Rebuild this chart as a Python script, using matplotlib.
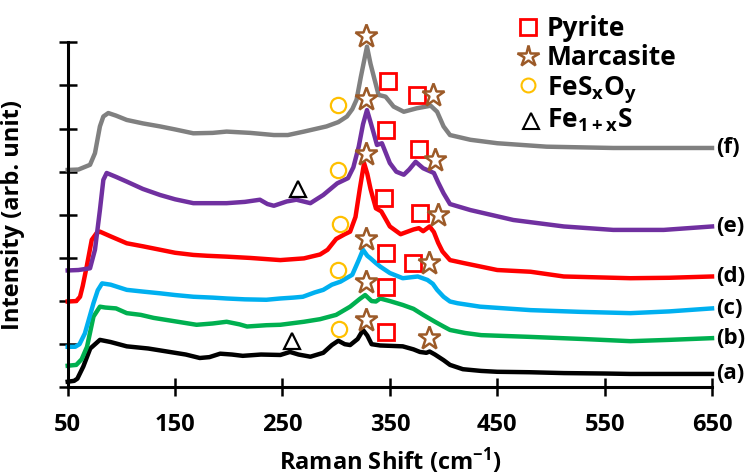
import numpy as np
import matplotlib
matplotlib.use("Agg")
import matplotlib.pyplot as plt

plt.rcParams["font.family"] = ["Open Sans", "DejaVu Sans"]
plt.rcParams["font.weight"] = "bold"
plt.rcParams["mathtext.fontset"] = "custom"
plt.rcParams["mathtext.rm"] = "Open Sans:bold"
plt.rcParams["mathtext.it"] = "Open Sans:bold"
plt.rcParams["mathtext.bf"] = "Open Sans:bold"

# Raman spectra, stacked with an offset (a) bottom ... (f) top
a_x = [50, 56, 59, 64.5, 71, 80, 90, 105, 125, 145, 160, 173, 182, 192, 203, 213, 230, 248,
       257, 265, 276, 288, 296, 302, 308, 313, 320, 325, 329, 333, 341, 352, 362, 372, 378,
       384, 387, 392, 400, 406, 418, 435, 450, 480, 512, 550, 574, 610, 650]
a_y = [0.13, 0.15, 0.2, 0.48, 0.9, 1.1, 1.05, 0.95, 0.9, 0.82, 0.76, 0.68, 0.7, 0.78, 0.76,
       0.73, 0.76, 0.75, 0.82, 0.76, 0.71, 0.8, 0.98, 1.08, 1.0, 0.98, 1.12, 1.33, 1.2, 1.0,
       0.97, 0.96, 0.95, 0.88, 0.82, 0.8, 0.83, 0.76, 0.63, 0.52, 0.42, 0.38, 0.36, 0.35,
       0.33, 0.32, 0.31, 0.31, 0.31]

b_x = [50, 58, 63, 68, 74, 80, 85, 95, 105, 118, 130, 150, 170, 185, 198, 210, 217, 235,
       248, 270, 285, 300, 313, 322, 327, 333, 337, 341, 350, 362, 372, 381, 392, 400, 406,
       420, 435, 480, 530, 574, 610, 650]
b_y = [0.5, 0.52, 0.65, 0.94, 1.64, 1.87, 1.85, 1.83, 1.72, 1.68, 1.61, 1.53, 1.45, 1.48,
       1.52, 1.46, 1.41, 1.44, 1.45, 1.52, 1.58, 1.68, 1.87, 2.05, 2.14, 2.0, 1.99, 2.06,
       2.0, 1.91, 1.82, 1.68, 1.52, 1.41, 1.33, 1.26, 1.21, 1.17, 1.12, 1.07, 1.1, 1.14]

c_x = [50, 57, 61, 66, 70, 74, 78, 82, 90, 105, 120, 136, 150, 167, 185, 198, 215, 235,
       248, 260, 269, 280, 288, 296, 304, 315, 321, 325, 329, 332, 337, 341, 350, 362, 376,
       385, 390, 394, 400, 406, 413, 434, 481, 527, 574, 610, 650]
c_y = [0.94, 0.94, 1.0, 1.25, 1.6, 1.95, 2.25, 2.41, 2.38, 2.26, 2.22, 2.18, 2.14, 2.1,
       2.08, 2.06, 2.04, 2.03, 2.06, 2.08, 2.1, 2.2, 2.26, 2.38, 2.45, 2.61, 2.95, 3.19,
       3.05, 2.99, 2.88, 2.8, 2.65, 2.53, 2.57, 2.49, 2.4, 2.26, 2.1, 1.99, 1.95, 1.87,
       1.79, 1.75, 1.72, 1.76, 1.83]

d_x = [50, 58, 61.5, 64, 67.7, 72.4, 77, 80, 90, 105, 120, 136, 150, 167, 180, 198, 220,
       248, 270, 285, 292, 300, 308, 313, 318, 322, 326, 329, 332, 337, 342, 345, 350, 360,
       372, 377, 381, 387, 391, 395, 399, 406, 419, 450, 481, 512, 574, 610, 650]
d_y = [1.99, 2.0, 2.1, 2.35, 2.8, 3.42, 3.58, 3.61, 3.5, 3.34, 3.27, 3.19, 3.12, 3.07,
       3.05, 3.03, 3.0, 2.95, 2.99, 3.08, 3.19, 3.44, 3.55, 3.61, 3.95, 4.6, 5.2, 4.95, 4.6,
       4.15, 4.08, 3.95, 3.73, 3.55, 3.66, 3.69, 3.62, 3.73, 3.6, 3.35, 3.15, 2.95, 2.88,
       2.72, 2.68, 2.57, 2.53, 2.54, 2.57]

e_x = [50, 60, 70.8, 75.4, 80, 83.2, 86.3, 95, 105, 120, 136, 150, 167, 198, 215, 229,
       236, 242, 254, 263, 276, 288, 301, 311, 316, 321, 325, 328.7, 332, 335, 338, 342.6,
       350, 356, 363, 368, 374, 381, 391, 395, 400, 406, 425, 465, 512, 558, 605, 650]
e_y = [2.71, 2.72, 2.76, 3.19, 4.11, 4.81, 4.97, 4.88, 4.77, 4.6, 4.46, 4.36, 4.27, 4.27,
       4.3, 4.35, 4.25, 4.21, 4.31, 4.35, 4.27, 4.46, 4.73, 4.85, 5.1, 5.58, 6.1, 6.43,
       6.15, 5.89, 5.62, 5.66, 5.2, 5.0, 4.93, 5.05, 5.23, 5.08, 4.97, 4.75, 4.5, 4.25,
       4.11, 3.88, 3.73, 3.65, 3.65, 3.73]

f_x = [50, 60, 70.8, 75.4, 80, 83.2, 87.8, 95, 105, 120, 136, 150, 167, 185, 198, 220,
       242, 255, 270, 291, 302, 310, 315, 319, 323, 328.7, 332, 335, 339.5, 346, 353.5, 363,
       375, 388, 394, 400, 406, 425, 450, 496, 558, 650]
f_y = [5.04, 5.05, 5.16, 5.43, 6.05, 6.28, 6.36, 6.3, 6.2, 6.12, 6.05, 5.98, 5.89, 5.9,
       5.93, 5.9, 5.85, 5.85, 5.93, 6.05, 6.15, 6.28, 6.45, 6.67, 7.2, 7.9, 7.5, 7.21,
       6.78, 6.74, 6.51, 6.39, 6.47, 6.53, 6.39, 6.05, 5.85, 5.74, 5.66, 5.58, 5.55, 5.55]

series = [(a_x, a_y, "black", "(a)"), (b_x, b_y, "#00B050", "(b)"),
          (c_x, c_y, "#00B0F0", "(c)"), (d_x, d_y, "#FF0000", "(d)"),
          (e_x, e_y, "#7030A0", "(e)"), (f_x, f_y, "#808080", "(f)")]

# phase assignments (Raman shift, stacked intensity)
pyrite_x = [348, 375, 346, 377, 345, 378, 346, 372, 346, 346]
pyrite_y = [7.11, 6.78, 5.97, 5.52, 4.39, 4.04, 3.12, 2.88, 2.33, 1.28]
marc_x = [328, 390, 328, 392, 328, 395, 328, 386, 328, 328, 386]
marc_y = [8.15, 6.78, 6.68, 5.27, 5.41, 4.0, 3.44, 2.88, 2.44, 1.56, 1.14]
fesxoy_x = [302, 302, 304, 302, 303]
fesxoy_y = [6.55, 5.04, 3.78, 2.72, 1.35]
fe1xs_x = [264, 259]
fe1xs_y = [4.59, 1.07]

BROWN = "#9C5A28"
ORANGE = "#FFC000"

fig = plt.figure(figsize=(7.48, 4.75), dpi=100)
ax = fig.add_axes([0.0905, 0.1846, 0.8614, 0.7263])

for xs, ys, col, lab in series:
    ax.plot(xs, ys, color=col, lw=3.2, solid_joinstyle="round", clip_on=False)
    ax.text(654, ys[-1], lab, fontsize=16, fontweight="bold", va="center", ha="left")

mk = dict(ls="none", mfc="white", clip_on=False, zorder=5)
ax.plot(pyrite_x, pyrite_y, marker="s", ms=11.5, mec="#FF0000", mew=2.0, **mk)
ax.plot(marc_x, marc_y, marker="*", ms=17, mec=BROWN, mew=1.8, **mk)
ax.plot(fesxoy_x, fesxoy_y, marker="o", ms=11, mec=ORANGE, mew=1.6, **mk)
ax.plot(fe1xs_x, fe1xs_y, marker="^", ms=11, mec="black", mew=1.6, **mk)

ax.set_xlim(50, 650)
ax.set_ylim(0, 8)
ax.set_xticks(np.arange(50, 651, 100))
ax.set_yticks(np.arange(0, 9, 1))
ax.set_yticklabels([])
for s in ["top", "right"]:
    ax.spines[s].set_visible(False)
for s in ["left", "bottom"]:
    ax.spines[s].set_linewidth(2.2)
ax.tick_params(direction="inout", length=13, width=1.8, labelsize=17, pad=12)
ax.set_xlabel("Raman Shift (cm$^{-1}$)", fontsize=17, fontweight="bold", labelpad=6)
ax.set_ylabel("Intensity (arb. unit)", fontsize=17, fontweight="bold", labelpad=12)

# legend drawn by hand at the top right
W, H = 748, 475
leg = [("s", 11.5, "#FF0000", 2.0, 528, 27, "Pyrite", 36),
       ("*", 16, BROWN, 1.8, 528, 56, "Marcasite", 65),
       ("o", 10, ORANGE, 1.5, 528, 85, "FeS$_x$O$_y$", 95),
       ("^", 11, "black", 1.5, 531, 121, "Fe$_{1+x}$S", 128)]
for m, ms, ec, ew, px, py, txt, base in leg:
    fig.add_artist(plt.Line2D([px / W], [1 - py / H], transform=fig.transFigure,
                              marker=m, ms=ms, mec=ec, mew=ew, mfc="white", ls="none"))
    fig.text(547 / W, 1 - base / H, txt, fontsize=19, fontweight="bold",
             ha="left", va="baseline")

fig.savefig("out.png", dpi=100)
